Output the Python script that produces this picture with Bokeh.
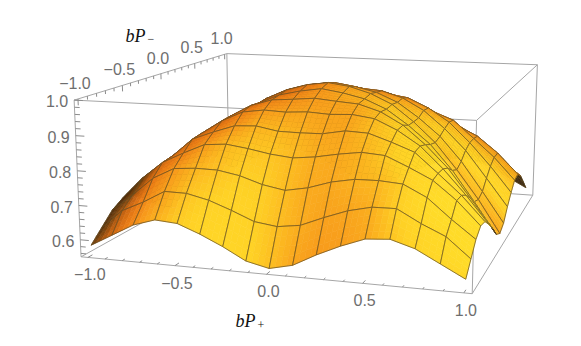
import numpy as np
from bokeh.plotting import figure
from bokeh.models import Range1d
from bokeh.core.properties import value
from bokeh.embed import file_html
from bokeh.resources import INLINE

bP_plus = [-1.0, -0.875, -0.75, -0.625, -0.5, -0.375, -0.25, -0.125, 0.0, 0.125, 0.25, 0.375, 0.5, 0.625, 0.75, 0.875, 1.0]
bP_minus = [-1.0, -0.875, -0.75, -0.625, -0.5, -0.375, -0.25, -0.125, 0.0, 0.125, 0.25, 0.375, 0.5, 0.625, 0.75, 0.875, 1.0]
# rows: bP_minus ascending, columns: bP_plus ascending
surface_z = [
 [.58,.615,.65,.67,.665,.64,.61,.575,.56,.575,.61,.64,.665,.67,.65,.615,.58],
 [.615,.67,.70,.736,.735,.72,.696,.669,.66,.669,.696,.72,.735,.736,.70,.67,.615],
 [.65,.70,.755,.788,.793,.792,.78,.759,.747,.759,.78,.792,.793,.788,.755,.70,.65],
 [.67,.736,.788,.82,.849,.854,.845,.833,.826,.833,.845,.854,.849,.82,.788,.736,.67],
 [.665,.735,.793,.849,.874,.896,.899,.887,.886,.887,.899,.896,.874,.849,.793,.735,.665],
 [.64,.72,.792,.854,.896,.926,.935,.932,.936,.932,.935,.926,.896,.854,.792,.72,.64],
 [.61,.696,.78,.845,.899,.935,.955,.96,.966,.96,.955,.935,.899,.845,.78,.696,.61],
 [.575,.669,.759,.833,.887,.932,.96,.975,.985,.975,.96,.932,.887,.833,.759,.669,.575],
 [.56,.66,.747,.826,.886,.936,.966,.985,.994,.985,.966,.936,.886,.826,.747,.66,.56],
 [.575,.669,.759,.833,.887,.932,.96,.975,.985,.975,.96,.932,.887,.833,.759,.669,.575],
 [.61,.696,.78,.845,.899,.935,.955,.96,.966,.96,.955,.935,.899,.845,.78,.696,.61],
 [.64,.72,.792,.854,.896,.926,.935,.932,.936,.932,.935,.926,.896,.854,.792,.72,.64],
 [.665,.735,.793,.849,.874,.896,.899,.887,.886,.887,.899,.896,.874,.849,.793,.735,.665],
 [.67,.736,.788,.82,.849,.854,.845,.833,.826,.833,.845,.854,.849,.82,.788,.736,.67],
 [.65,.70,.755,.788,.793,.792,.78,.759,.747,.759,.78,.792,.793,.788,.755,.70,.65],
 [.615,.67,.70,.736,.735,.72,.696,.669,.66,.669,.696,.72,.735,.736,.70,.67,.615],
 [.58,.615,.65,.67,.665,.64,.61,.575,.56,.575,.61,.64,.665,.67,.65,.615,.58],
]
x_ticks = [-1.0, -0.5, 0.0, 0.5, 1.0]
y_ticks = [-1.0, -0.5, 0.0, 0.5, 1.0]
z_ticks = [0.6, 0.7, 0.8, 0.9, 1.0]
x_tick_labels = ["\u22121.0", "\u22120.5", "0.0", "0.5", "1.0"]
y_tick_labels = ["\u22121.0", "\u22120.5", "0.0", "0.5", "1.0"]
z_tick_labels = ["0.6", "0.7", "0.8", "0.9", "1.0"]

# box limits of the 3D view
XL, XH, YL, YH, ZL, ZH = -1.04, 1.04, -1.04, 1.04, 0.55, 1.0

# camera: solved from where the eight box corners land on the page
corners3 = [(XL,YL,ZL),(XH,YL,ZL),(XH,YH,ZL),(XL,YH,ZL),(XL,YL,ZH),(XH,YL,ZH),(XH,YH,ZH),(XL,YH,ZH)]
corners2 = [(80,256),(472,293),(532,195),(229,174),(74,100),(476,120),(537,64),(226,53)]
A = []
for (X,Y,Z),(u,v) in zip(corners3,corners2):
    A.append([X,Y,Z,1,0,0,0,0,-u*X,-u*Y,-u*Z,-u])
    A.append([0,0,0,0,X,Y,Z,1,-v*X,-v*Y,-v*Z,-v])
M = np.linalg.svd(np.array(A))[2][-1].reshape(3,4)

def proj(X,Y,Z):
    X,Y,Z = np.asarray(X,float),np.asarray(Y,float),np.asarray(Z,float)
    w = M[2,0]*X+M[2,1]*Y+M[2,2]*Z+M[2,3]
    return ((M[0,0]*X+M[0,1]*Y+M[0,2]*Z+M[0,3])/w,(M[1,0]*X+M[1,1]*Y+M[1,2]*Z+M[1,3])/w)

def depth(X,Y,Z):
    d = M[2,0]*X+M[2,1]*Y+M[2,2]*Z+M[2,3]
    near = M[2,0]*XH+M[2,1]*YL+M[2,2]*ZH+M[2,3]
    far = M[2,0]*XL+M[2,1]*YH+M[2,2]*ZL+M[2,3]
    return (d-near)/(far-near)  # 0 near, 1 far

p = figure(width=565, height=330, x_range=Range1d(0,565), y_range=Range1d(330,0),
           output_backend="svg", toolbar_location=None, min_border=0,
           x_axis_location=None, y_axis_location=None, outline_line_color=None)
p.grid.visible = False

BOX = "#a6a6a6"
AX = "#8c8c8c"
edges = [(0,1),(1,2),(2,3),(3,0),(4,5),(5,6),(6,7),(7,4),(0,4),(1,5),(2,6),(3,7)]
for a,b in edges:
    xs,ys = proj(*zip(corners3[a],corners3[b]))
    p.line(list(xs),list(ys),line_color=BOX,line_width=1)

def seg(a,b,color=AX,w=1):
    xs,ys = proj(*zip(a,b))
    p.line(list(xs),list(ys),line_color=color,line_width=w)

# ticks
for k in range(-10,11):
    t = k/10
    major = k%5==0
    l = 0.05 if major else 0.03
    seg((t,YL,ZL),(t,YL+l,ZL))
    l2 = 0.018 if major else 0.01
    seg((XL,t,ZH),(XL,t,ZH-l2))
for k in range(28,51):
    t = k/50
    major = k%5==0
    l = 0.05 if major else 0.03
    seg((XL,YL,t),(XL+l,YL,t))

# surface
X = np.array(bP_plus); Y = np.array(bP_minus); Z = np.array(surface_z)
SZ = 1.78
dzx = np.gradient(Z*SZ, X, axis=1)
dzy = np.gradient(Z*SZ, Y, axis=0)
cyy = np.gradient(dzy, Y, axis=0)
stops = np.array([-1.3,-1.0,-0.7,-0.35,0.0,0.3,0.6,1.0])
cols = np.array([[80,45,12],[125,70,15],[195,98,18],[236,125,22],[248,155,28],[252,182,32],[255,210,38],[255,224,42]],float)
def shade(dx,dy,xc,yc,zc,cv):
    n = np.array([-dx,-dy,1.0]); n = n/np.linalg.norm(n)
    back = 1.0*max(yc+0.1,0.0)*min(max(xc+0.5,0.0),1.0)
    crease = 0.3*max(cv,0.0)*min(max(xc+0.3,0.0),1.0)
    left = 2.6*max(-(xc+0.72),0.0)
    top = 0.15*min(max((zc-0.85)/0.1,0.0),1.0)
    return 1.3*n[0]-0.5*n[1]-back-crease-left-top
def colour(s):
    c = [np.interp(s,stops,cols[:,i]) for i in range(3)]
    return "#%02x%02x%02x"%tuple(int(v) for v in c)

N = 4
cells = []
for j in range(16):
    for i in range(16):
        cx,cy,cz = (X[i]+X[i+1])/2,(Y[j]+Y[j+1])/2,Z[j:j+2,i:i+2].mean()
        cells.append((depth(cx,cy,cz),i,j))
cells.sort(reverse=True)
MESH = "#5e4a22"
XX,YY = np.meshgrid(X,Y)
for _,i,j in cells:
    pxs,pys,fills = [],[],[]
    def B(u,v,F):
        return (F[j,i]*(1-u)*(1-v)+F[j,i+1]*u*(1-v)+F[j+1,i]*(1-u)*v+F[j+1,i+1]*u*v)
    for a in range(N):
        for b in range(N):
            us=[a/N,(a+1)/N,(a+1)/N,a/N]; vs=[b/N,b/N,(b+1)/N,(b+1)/N]
            qx=[B(u,v,XX) for u,v in zip(us,vs)]; qy=[B(u,v,YY) for u,v in zip(us,vs)]; qz=[B(u,v,Z) for u,v in zip(us,vs)]
            sx,sy = proj(qx,qy,qz)
            area = 0.5*sum(sx[k]*sy[(k+1)%4]-sx[(k+1)%4]*sy[k] for k in range(4))
            uc,vc=(a+.5)/N,(b+.5)/N
            s = shade(B(uc,vc,dzx),B(uc,vc,dzy),B(uc,vc,XX),B(uc,vc,YY),B(uc,vc,Z),B(uc,vc,cyy))
            c = "#3e2a10" if area>0 else colour(s)
            pxs.append(list(sx));pys.append(list(sy));fills.append(c)
    p.patches(pxs,pys,fill_color=fills,line_color=fills,line_width=0.6)
    ex,ey = proj([X[i],X[i+1],X[i+1],X[i],X[i]],[Y[j],Y[j],Y[j+1],Y[j+1],Y[j]],[Z[j,i],Z[j,i+1],Z[j+1,i+1],Z[j+1,i],Z[j,i]])
    p.line(list(ex),list(ey),line_color=MESH,line_width=0.7)

# tick labels
GR = "#6e6e6e"
FONT = value("Liberation Sans")
sx,sy = proj(x_ticks,[YL]*5,[ZL]*5)
p.text(list(sx+2),list(sy+17),text=x_tick_labels,text_font=FONT,text_font_size="16px",text_color=GR,text_align="center",text_baseline="middle")
sx,sy = proj([XL]*5,y_ticks,[ZH]*5)
p.text(list(sx-3),list(sy-16),text=y_tick_labels,text_font=FONT,text_font_size="16px",text_color=GR,text_align="center",text_baseline="middle")
sx,sy = proj([XL]*5,[YL]*5,z_ticks)
p.text(list(sx-6),list(sy+1),text=z_tick_labels,text_font=FONT,text_font_size="16px",text_color=GR,text_align="right",text_baseline="middle")

SERIF = value("Liberation Serif")
p.text([125],[35],text=["bP"],text_font=SERIF,text_font_style="italic",text_font_size="18px",text_color="#111111",text_align="left",text_baseline="middle")
p.text([147],[38],text=["\u2212"],text_font=SERIF,text_font_size="12px",text_color="#111111",text_align="left",text_baseline="middle")
p.text([235],[320],text=["bP"],text_font=SERIF,text_font_style="italic",text_font_size="18px",text_color="#111111",text_align="left",text_baseline="middle")
p.text([257],[324],text=["+"],text_font=SERIF,text_font_size="12px",text_color="#111111",text_align="left",text_baseline="middle")

open("out.html","w").write(file_html(p, INLINE))
